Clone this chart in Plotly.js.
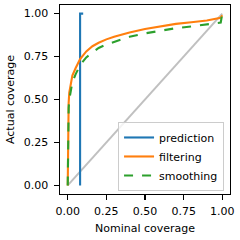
<!DOCTYPE html>
<html><head><meta charset="utf-8">
<script src="https://cdn.plot.ly/plotly-3.0.1.min.js"></script>
<style>html,body{margin:0;padding:0;background:#fff}#c{width:240px;height:240px}</style>
</head><body><div id="c"></div>
<script>
const nominal = [0, 0.001, 0.003, 0.006, 0.01, 0.02, 0.03, 0.05, 0.08, 0.12, 0.16, 0.2, 0.25, 0.3, 0.4, 0.5, 0.6, 0.7, 0.8, 0.9, 0.99, 1.0];
const filtering = [0, 0.2, 0.38, 0.48, 0.54, 0.6, 0.64, 0.68, 0.735, 0.78, 0.81, 0.83, 0.85, 0.865, 0.89, 0.91, 0.925, 0.94, 0.95, 0.96, 0.975, 0.99];
const smoothing = [0, 0.18, 0.35, 0.45, 0.5, 0.56, 0.6, 0.645, 0.7, 0.745, 0.775, 0.8, 0.82, 0.835, 0.865, 0.885, 0.9, 0.915, 0.925, 0.935, 0.948, 1.0];
const predX = [0.08, 0.08, 0.1];
const predY = [0, 1, 1];
const diagX = [0, 1];
const diagY = [0, 1];
const ticks = [0, 0.25, 0.5, 0.75, 1.0];
const tickText = ["0.00", "0.25", "0.50", "0.75", "1.00"];

const F = 'DejaVu Sans';
const data = [
  {x: diagX, y: diagY, mode: 'lines', line: {color: '#c0c0c0', width: 2}, showlegend: false, hoverinfo: 'skip'},
  {x: predX, y: predY, mode: 'lines', name: 'prediction', line: {color: '#1f77b4', width: 2.1}},
  {x: nominal, y: filtering, mode: 'lines', name: 'filtering', line: {color: '#ff7f0e', width: 2.1}},
  {x: nominal, y: smoothing, mode: 'lines', name: 'smoothing', line: {color: '#2ca02c', width: 2.1, dash: 'dash'}}
];
const axisCommon = {
  showgrid: false, zeroline: false, showline: true, linecolor: '#000', linewidth: 1.1, mirror: true,
  ticks: 'outside', ticklen: 4.5, tickwidth: 1.1, tickcolor: '#000',
  tickvals: ticks, ticktext: tickText,
  tickfont: {family: F, size: 11, color: '#000'}
};
const layout = {
  width: 240, height: 240,
  margin: {l: 60, r: 10, t: 5, b: 46},
  paper_bgcolor: '#fff', plot_bgcolor: '#fff',
  xaxis: Object.assign({}, axisCommon, {range: [-0.05, 1.05], ticklabelstandoff: 2,
    title: {text: 'Nominal coverage', font: {family: F, size: 11, color: '#000'}, standoff: 7}}),
  yaxis: Object.assign({}, axisCommon, {range: [-0.05, 1.05], ticklabelstandoff: 4,
    title: {text: 'Actual coverage', font: {family: F, size: 11, color: '#000'}, standoff: 6}}),
  legend: {x: 0.965, y: 0.016, xanchor: 'right', yanchor: 'bottom',
    bgcolor: 'rgba(255,255,255,0.8)', bordercolor: '#cccccc', borderwidth: 1,
    font: {family: F, size: 11, color: '#000'}, tracegroupgap: 0, itemwidth: 30},
  showlegend: true
};
Plotly.newPlot('c', data, layout, {staticPlot: true, displayModeBar: false});
</script></body></html>
